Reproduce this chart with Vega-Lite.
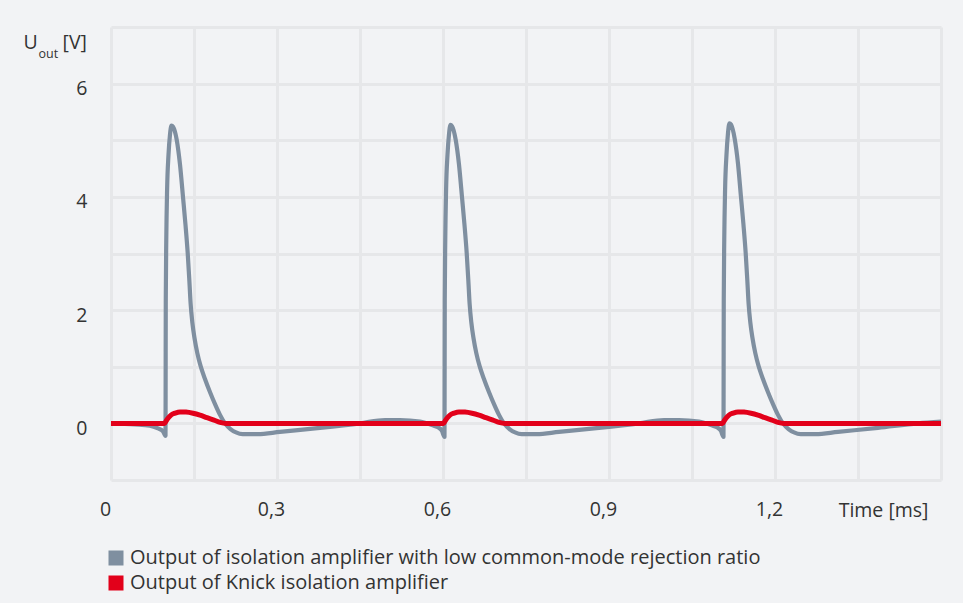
{
  "$schema": "https://vega.github.io/schema/vega-lite/v6.json",
  "width": 830,
  "height": 453,
  "autosize": {"type": "none"},
  "padding": {"left": 111, "top": 27, "right": 22, "bottom": 123},
  "background": "#f2f3f5",
  "config": {
    "font": "Open Sans",
    "view": {"stroke": null, "fill": "#f2f3f5"},
    "axis": {"labelColor": "#333333", "titleColor": "#333333", "labelFont": "Open Sans", "titleFont": "Open Sans", "titleFontWeight": "normal"},
    "legend": {"labelColor": "#333333", "labelFont": "Open Sans"}
  },
  "layer": [
    {
      "data": {"values": [
        {"t":0.000,"v":0.00},{"t":0.043,"v":-0.02},{"t":0.070,"v":-0.04},{"t":0.085,"v":-0.09},{"t":0.094,"v":-0.14},{"t":0.0985,"v":-0.22},
        {"t":0.0987,"v":0.5},{"t":0.0990,"v":2.2},{"t":0.0999,"v":3.24},{"t":0.1014,"v":4.13},{"t":0.1039,"v":4.74},{"t":0.1066,"v":5.10},{"t":0.1093,"v":5.26},{"t":0.1120,"v":5.24},
        {"t":0.1187,"v":5.01},{"t":0.1247,"v":4.57},{"t":0.1301,"v":4.00},{"t":0.1346,"v":3.51},{"t":0.1386,"v":3.01},{"t":0.1415,"v":2.54},{"t":0.1440,"v":2.10},{"t":0.1470,"v":1.78},
        {"t":0.1510,"v":1.50},{"t":0.1560,"v":1.24},{"t":0.1620,"v":1.01},{"t":0.1700,"v":0.78},{"t":0.1790,"v":0.55},{"t":0.1880,"v":0.34},{"t":0.1970,"v":0.15},{"t":0.2060,"v":0.00},
        {"t":0.2160,"v":-0.10},{"t":0.2260,"v":-0.16},{"t":0.2380,"v":-0.19},{"t":0.2650,"v":-0.19},{"t":0.3054,"v":-0.15},{"t":0.3777,"v":-0.08},{"t":0.4500,"v":0.00},{"t":0.4952,"v":0.06},{"t":0.5223,"v":0.06},
        {"t":0.5584,"v":0.03},{"t":0.5800,"v":-0.03},{"t":0.5910,"v":-0.07},{"t":0.5980,"v":-0.13},{"t":0.6027,"v":-0.24},
        {"t":0.6029,"v":0.5},{"t":0.6032,"v":2.2},{"t":0.6041,"v":3.24},{"t":0.6056,"v":4.13},{"t":0.6081,"v":4.74},{"t":0.6108,"v":5.10},{"t":0.6135,"v":5.27},{"t":0.6162,"v":5.25},
        {"t":0.6229,"v":5.01},{"t":0.6289,"v":4.57},{"t":0.6343,"v":4.00},{"t":0.6388,"v":3.51},{"t":0.6428,"v":3.01},{"t":0.6457,"v":2.54},{"t":0.6482,"v":2.10},{"t":0.6512,"v":1.78},
        {"t":0.6552,"v":1.50},{"t":0.6602,"v":1.24},{"t":0.6662,"v":1.01},{"t":0.6742,"v":0.78},{"t":0.6832,"v":0.55},{"t":0.6922,"v":0.34},{"t":0.7012,"v":0.15},{"t":0.7102,"v":0.00},
        {"t":0.7202,"v":-0.10},{"t":0.7302,"v":-0.16},{"t":0.7422,"v":-0.19},{"t":0.7692,"v":-0.19},{"t":0.8096,"v":-0.15},{"t":0.8819,"v":-0.08},{"t":0.9542,"v":0.00},{"t":0.9994,"v":0.06},{"t":1.0265,"v":0.06},
        {"t":1.0626,"v":0.03},{"t":1.0842,"v":-0.03},{"t":1.0952,"v":-0.07},{"t":1.1022,"v":-0.13},{"t":1.1069,"v":-0.24},
        {"t":1.1071,"v":0.5},{"t":1.1074,"v":2.2},{"t":1.1083,"v":3.24},{"t":1.1098,"v":4.13},{"t":1.1123,"v":4.74},{"t":1.1150,"v":5.12},{"t":1.1177,"v":5.30},{"t":1.1204,"v":5.28},
        {"t":1.1271,"v":5.03},{"t":1.1331,"v":4.59},{"t":1.1385,"v":4.00},{"t":1.1430,"v":3.51},{"t":1.1470,"v":3.01},{"t":1.1499,"v":2.54},{"t":1.1524,"v":2.10},{"t":1.1554,"v":1.78},
        {"t":1.1594,"v":1.50},{"t":1.1644,"v":1.24},{"t":1.1704,"v":1.01},{"t":1.1784,"v":0.78},{"t":1.1874,"v":0.55},{"t":1.1964,"v":0.34},{"t":1.2054,"v":0.15},{"t":1.2144,"v":0.00},
        {"t":1.2244,"v":-0.10},{"t":1.2344,"v":-0.16},{"t":1.2464,"v":-0.19},{"t":1.2734,"v":-0.19},{"t":1.3138,"v":-0.15},{"t":1.3861,"v":-0.08},{"t":1.4584,"v":0.00},{"t":1.5,"v":0.03}
      ]},
      "mark": {"type": "line", "interpolate": "monotone", "strokeWidth": 4.2, "strokeJoin": "round"},
      "encoding": {
        "x": {"field": "t", "type": "quantitative", "scale": {"domain": [0, 1.5], "nice": false, "zero": false},
          "axis": {"orient": "bottom", "values": [0,0.15,0.3,0.45,0.6,0.75,0.9,1.05,1.2,1.35,1.5],
            "labelExpr": "datum.value == 0 ? '0' : ((round(datum.value*100) % 30 == 0 && datum.value < 1.4) ? replace(format(datum.value, '.1f'), '.', ',') : '')",
            "grid": true, "gridColor": "#e6e7e9", "gridWidth": 3, "domain": false, "ticks": false,
            "labelFontSize": 19.5, "labelPadding": 20, "labelOffset": -6, "labelFlush": false, "labelOverlap": false,
            "title": "Time [ms]", "titleFontSize": 19.5, "titleX": 817, "titleY": 30, "titleAlign": "right", "titleBaseline": "middle", "titleAnchor": null}},
        "y": {"field": "v", "type": "quantitative", "scale": {"domain": [-1, 7], "nice": false, "zero": false},
          "axis": {"orient": "left", "values": [-1,0,1,2,3,4,5,6,7],
            "labelExpr": "(datum.value >= 0 && datum.value < 7 && datum.value % 2 == 0) ? datum.label : ''",
            "grid": true, "gridColor": "#e6e7e9", "gridWidth": 3, "domain": false, "ticks": false,
            "labelFontSize": 19.5, "labelPadding": 24, "labelOffset": 5, "labelFlush": false, "labelOverlap": false,
            "title": "U", "titleFontSize": 19.5, "titleAngle": 0, "titleX": -88, "titleY": 15, "titleAlign": "left", "titleBaseline": "middle"}},
        "color": {"datum": "Output of isolation amplifier with low common-mode rejection ratio", "type": "nominal",
          "scale": {"domain": ["Output of isolation amplifier with low common-mode rejection ratio", "Output of Knick isolation amplifier"], "range": ["#7f8fa0", "#e2001a"]},
          "legend": {"orient": "none", "legendX": -5, "legendY": 521, "direction": "vertical", "title": null,
            "symbolType": "square", "symbolSize": 16, "symbolStrokeWidth": 11, "symbolOpacity": 1,
            "labelFontSize": 20, "labelOffset": 4, "rowPadding": 5, "clipHeight": 20, "labelLimit": 800}}
      }
    },
    {
      "data": {"values": [
        {"t":0,"v":0},{"t":0.0967,"v":0},{"t":0.0994,"v":0.04},{"t":0.1030,"v":0.09},{"t":0.1084,"v":0.146},{"t":0.1157,"v":0.18},{"t":0.1247,"v":0.203},{"t":0.1355,"v":0.2},
        {"t":0.1482,"v":0.18},{"t":0.1608,"v":0.146},{"t":0.1735,"v":0.1},{"t":0.1862,"v":0.058},{"t":0.1970,"v":0.018},{"t":0.2078,"v":0},
        {"t":0.6009,"v":0},{"t":0.6036,"v":0.04},{"t":0.6072,"v":0.09},{"t":0.6126,"v":0.146},{"t":0.6199,"v":0.18},{"t":0.6289,"v":0.203},{"t":0.6397,"v":0.2},
        {"t":0.6524,"v":0.18},{"t":0.6650,"v":0.146},{"t":0.6777,"v":0.1},{"t":0.6904,"v":0.058},{"t":0.7012,"v":0.018},{"t":0.7120,"v":0},
        {"t":1.1051,"v":0},{"t":1.1078,"v":0.04},{"t":1.1114,"v":0.09},{"t":1.1168,"v":0.146},{"t":1.1241,"v":0.18},{"t":1.1331,"v":0.203},{"t":1.1439,"v":0.2},
        {"t":1.1566,"v":0.18},{"t":1.1692,"v":0.146},{"t":1.1819,"v":0.1},{"t":1.1946,"v":0.058},{"t":1.2054,"v":0.018},{"t":1.2162,"v":0},{"t":1.5,"v":0}
      ]},
      "mark": {"type": "line", "interpolate": "monotone", "strokeWidth": 5, "strokeJoin": "round"},
      "encoding": {
        "x": {"field": "t", "type": "quantitative",
          "axis": {"orient": "top", "grid": false, "domain": false, "ticks": false, "labels": false,
            "title": "out", "titleFontSize": 12.5, "titleX": -73, "titleY": 26, "titleAlign": "left", "titleBaseline": "middle", "titleAnchor": null}},
        "y": {"field": "v", "type": "quantitative",
          "axis": {"orient": "right", "grid": false, "domain": false, "ticks": false, "labels": false,
            "title": "[V]", "titleFontSize": 19.5, "titleAngle": 0, "titleX": -879, "titleY": 15, "titleAlign": "left", "titleBaseline": "middle"}},
        "color": {"datum": "Output of Knick isolation amplifier", "type": "nominal"}
      }
    }
  ],
  "resolve": {"axis": {"x": "independent", "y": "independent"}}
}
